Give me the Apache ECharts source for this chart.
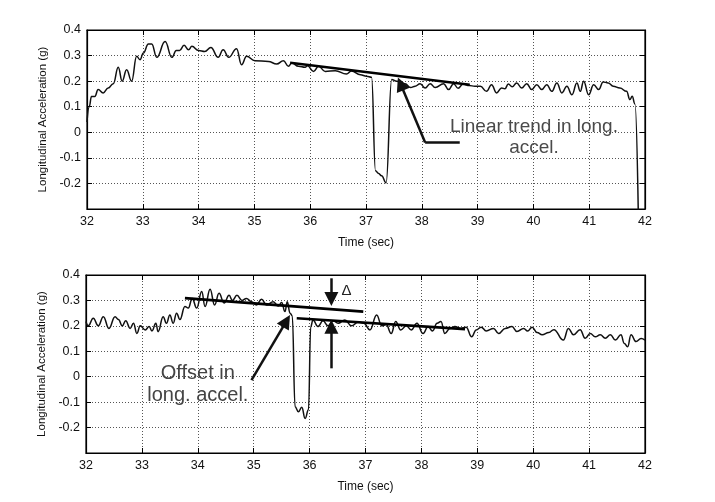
<!DOCTYPE html>
<html><head><meta charset="utf-8">
<script src="https://cdn.jsdelivr.net/npm/echarts@6/dist/echarts.min.js"></script>
<style>html,body{margin:0;padding:0;background:#fff}#c{width:715px;height:502px}</style>
</head><body><div id="c"></div><script>
// ---- data ----
const xTicks = [32,33,34,35,36,37,38,39,40,41,42];
const yTicks = [-0.2,-0.1,0,0.1,0.2,0.3,0.4];
const xTitle = 'Time (sec)';
const yTitle = 'Longitudinal Acceleration (g)';

const topTime = [32.00,32.04,32.08,32.14,32.20,32.29,32.38,32.47,32.56,32.63,32.71,32.80,32.89,32.95,33.01,33.10,33.16,33.25,33.40,33.52,33.60,33.66,33.74,33.82,33.88,34.00,34.11,34.22,34.35,34.44,34.54,34.68,34.77,34.86,35.01,35.25,35.40,35.52,35.61,35.67,35.79,35.91,35.95,36.06,36.15,36.27,36.45,36.65,36.74,36.90,37.01,37.10,37.17,37.22,37.28,37.36,37.46,37.55,37.70,37.80,37.88,37.97,38.06,38.15,38.24,38.39,38.48,38.57,38.65,38.74,38.85,38.95,39.05,39.16,39.25,39.34,39.43,39.49,39.55,39.62,39.70,39.79,39.88,39.97,40.06,40.15,40.24,40.33,40.42,40.51,40.60,40.69,40.78,40.84,40.90,40.99,41.08,41.17,41.25,41.34,41.43,41.55,41.67,41.73,41.77,41.82,41.88];
const topAccel = [0.04,0.10,0.14,0.14,0.167,0.154,0.173,0.19,0.254,0.20,0.245,0.20,0.297,0.284,0.31,0.345,0.345,0.293,0.355,0.293,0.32,0.32,0.34,0.323,0.336,0.32,0.316,0.332,0.293,0.323,0.293,0.327,0.264,0.297,0.28,0.277,0.267,0.28,0.258,0.271,0.258,0.254,0.26,0.238,0.258,0.238,0.241,0.228,0.24,0.225,0.219,0.215,-0.15,-0.16,-0.17,-0.198,0.206,0.20,0.19,0.175,0.18,0.19,0.173,0.19,0.175,0.19,0.167,0.19,0.172,0.189,0.183,0.18,0.18,0.16,0.186,0.154,0.173,0.17,0.189,0.178,0.193,0.173,0.19,0.167,0.186,0.167,0.186,0.16,0.193,0.154,0.18,0.147,0.193,0.16,0.20,0.147,0.186,0.167,0.197,0.193,0.18,0.173,0.16,0.128,0.141,0.111,-0.32];

const bottomTime = [32.00,32.04,32.13,32.22,32.31,32.41,32.52,32.58,32.65,32.71,32.79,32.85,32.91,32.97,33.06,33.13,33.18,33.25,33.29,33.38,33.44,33.50,33.56,33.62,33.68,33.77,33.83,33.90,33.98,34.07,34.13,34.22,34.30,34.38,34.47,34.56,34.62,34.70,34.79,34.87,34.96,35.05,35.14,35.23,35.35,35.44,35.50,35.56,35.60,35.65,35.69,35.74,35.80,35.86,35.92,35.98,36.02,36.06,36.15,36.24,36.33,36.42,36.51,36.63,36.75,36.87,36.97,37.08,37.20,37.29,37.37,37.46,37.54,37.63,37.73,37.82,37.92,38.03,38.12,38.20,38.28,38.35,38.42,38.51,38.60,38.70,38.80,38.90,38.98,39.07,39.16,39.29,39.38,39.50,39.62,39.71,39.83,39.90,39.98,40.07,40.16,40.28,40.37,40.54,40.63,40.72,40.84,40.93,41.02,41.11,41.20,41.29,41.38,41.47,41.57,41.63,41.69,41.75,41.84,41.93,42.00];
const bottomAccel = [0.217,0.20,0.23,0.20,0.236,0.19,0.236,0.225,0.20,0.22,0.19,0.21,0.17,0.20,0.184,0.197,0.18,0.21,0.177,0.236,0.21,0.243,0.21,0.25,0.225,0.276,0.27,0.308,0.27,0.335,0.276,0.344,0.282,0.328,0.29,0.32,0.30,0.32,0.30,0.308,0.295,0.282,0.305,0.282,0.295,0.278,0.292,0.256,0.295,0.25,0.24,-0.118,-0.138,-0.12,-0.164,-0.13,0.197,0.223,0.197,0.22,0.20,0.22,0.21,0.223,0.20,0.215,0.21,0.184,0.243,0.20,0.205,0.17,0.217,0.184,0.20,0.184,0.21,0.17,0.197,0.18,0.21,0.217,0.17,0.19,0.197,0.19,0.195,0.157,0.184,0.195,0.18,0.19,0.17,0.19,0.197,0.178,0.19,0.18,0.195,0.174,0.165,0.174,0.185,0.144,0.19,0.165,0.185,0.151,0.17,0.157,0.165,0.151,0.165,0.144,0.165,0.131,0.118,0.165,0.138,0.15,0.144];

// linear trend lines [t, value] endpoints
const topTrendTime = [35.64, 38.86];
const topTrendAccel = [0.272, 0.186];
const bottomTrend1Time = [33.77, 36.96];
const bottomTrend1Accel = [0.309, 0.256];
const bottomTrend2Time = [35.77, 38.78];
const bottomTrend2Accel = [0.23, 0.187];

// annotation texts
const topNote = 'Linear trend in long.\naccel.';
const bottomNote = 'Offset in\nlong. accel.';
const deltaNote = '\u0394';

// ---- build ----
const pairs = (t, v) => t.map((x, i) => [x, v[i]]);
const FONT = 'Arial, "Liberation Sans", sans-serif';
const grids = [
  {left: 87, top: 30, width: 558, height: 179},
  {left: 86, top: 275, width: 559, height: 178}
];

function xAx(g, pos) {
  const main = pos === 'bottom';
  return {
    type: 'value', gridIndex: g, position: pos, min: xTicks[0], max: xTicks[xTicks.length-1], interval: 1,
    name: main ? xTitle : '', nameLocation: 'middle', nameGap: 28,
    nameTextStyle: {fontFamily: FONT, fontSize: 12, color: '#111'},
    axisLine: {show: true, onZero: false, lineStyle: {color: '#000', width: 1.2}},
    axisTick: {show: true, inside: true, length: 5, lineStyle: {color: '#000'}},
    axisLabel: {show: main, fontFamily: FONT, fontSize: 12.5, color: '#111', margin: 6,
      formatter: v => xTicks.includes(Math.round(v)) ? String(Math.round(v)) : ''},
    splitLine: {show: main, lineStyle: {color: '#555', width: 1, type: [1, 2]}}
  };
}
function yAx(g, pos) {
  const main = pos === 'left';
  return {
    type: 'value', gridIndex: g, position: pos, min: -0.3, max: 0.4, interval: 0.1,
    name: main ? yTitle : '', nameLocation: 'middle', nameGap: 33,
    nameTextStyle: {fontFamily: FONT, fontSize: 11.5, color: '#111'},
    axisLine: {show: true, onZero: false, lineStyle: {color: '#000', width: 1.2}},
    axisTick: {show: true, inside: true, length: 5, lineStyle: {color: '#000'}},
    axisLabel: {show: main, fontFamily: FONT, fontSize: 12.5, color: '#111', margin: 6,
      formatter: v => {
        const r = Math.round(v * 10) / 10;
        return yTicks.some(t => Math.abs(t - r) < 1e-9) ? String(r) : '';
      }},
    splitLine: {show: main, lineStyle: {color: '#555', width: 1, type: [1, 2]}}
  };
}

const arrowStyle = {color: '#111', width: 2.5, type: 'solid'};
const headColor = '#444';
function arrow(a, b, head) {
  return [
    {coord: a, symbol: 'none', lineStyle: arrowStyle},
    {coord: b, symbol: head ? 'triangle' : 'none', symbolSize: 14, itemStyle: {color: headColor}, lineStyle: arrowStyle}
  ];
}
function note(coord, text, size, color) {
  return {
    coord: coord, symbol: 'rect', symbolSize: 1, itemStyle: {color: 'rgba(0,0,0,0)'},
    label: {show: true, position: 'inside', formatter: text, fontFamily: FONT, fontSize: size,
      color: color, lineHeight: Math.round(size * 1.12), align: 'center', verticalAlign: 'middle'}
  };
}

const signal = (x, y, d) => ({
  type: 'line', xAxisIndex: x, yAxisIndex: y, data: d, showSymbol: false, symbol: 'none',
  smooth: 0.45, smoothMonotone: 'x', clip: true,
  lineStyle: {color: '#111', width: 1.5}, silent: true, z: 3
});
const trend = (x, y, d, extra) => Object.assign({
  type: 'line', xAxisIndex: x, yAxisIndex: y, data: d, showSymbol: false, symbol: 'none',
  lineStyle: {color: '#000', width: 2.6}, silent: true, z: 4
}, extra || {});

const option = {
  animation: false,
  backgroundColor: '#fff',
  grid: grids.map(g => Object.assign({show: true, borderColor: '#000', borderWidth: 1.2, backgroundColor: '#fff', containLabel: false}, g)),
  xAxis: [xAx(0, 'bottom'), xAx(0, 'top'), xAx(1, 'bottom'), xAx(1, 'top')],
  yAxis: [yAx(0, 'left'), yAx(0, 'right'), yAx(1, 'left'), yAx(1, 'right')],
  series: [
    signal(0, 0, pairs(topTime, topAccel)),
    trend(0, 0, pairs(topTrendTime, topTrendAccel), {
      markLine: {silent: true, animation: false, label: {show: false}, emphasis: {disabled: true},
        data: [arrow([38.68, -0.04], [38.06, -0.04], false), arrow([38.06, -0.04], [37.62, 0.189], true)]},
      markPoint: {silent: true, animation: false, data: [note([40.01, -0.019], topNote, 19, '#4a4a4a')]}
    }),
    signal(2, 2, pairs(bottomTime, bottomAccel)),
    trend(2, 2, pairs(bottomTrend1Time, bottomTrend1Accel), {
      markLine: {silent: true, animation: false, label: {show: false}, emphasis: {disabled: true},
        data: [arrow([34.96, -0.013], [35.585, 0.219], true),
               arrow([36.39, 0.387], [36.39, 0.306], true),
               arrow([36.39, 0.033], [36.39, 0.196], true)]},
      markPoint: {silent: true, animation: false, data: [
        note([34.0, -0.031], bottomNote, 20, '#444'),
        note([36.66, 0.339], deltaNote, 15, '#222')]}
    }),
    trend(2, 2, pairs(bottomTrend2Time, bottomTrend2Accel))
  ]
};
const chart = echarts.init(document.getElementById('c'), null, {renderer: 'canvas'});
chart.setOption(option);
</script></body></html>
